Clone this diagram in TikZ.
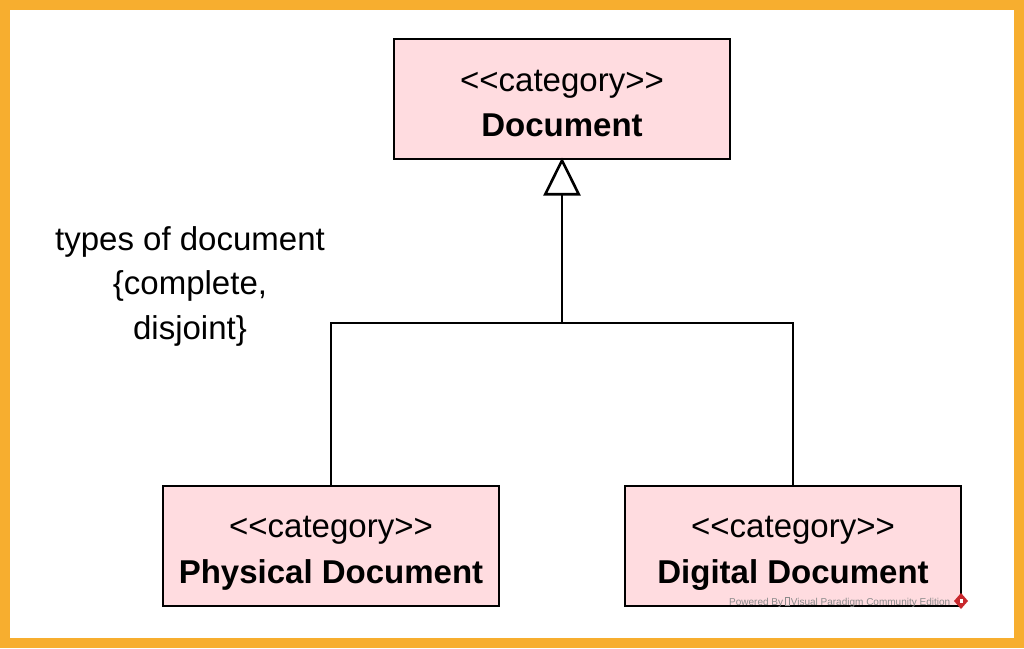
\documentclass[tikz,border=0pt]{standalone}
\usepackage{fontspec}
\setmainfont{Liberation Sans}
\usetikzlibrary{arrows.meta}
\definecolor{frameorange}{HTML}{F7AE2F}
\definecolor{catfill}{HTML}{FFDCE0}
\definecolor{wmgray}{HTML}{8A8A8A}
\definecolor{wmred}{HTML}{C8282D}
% stereotype text without the << ligature
\newcommand{\stereo}[1]{<\kern0pt<#1>\kern0pt>}
\begin{document}
\begin{tikzpicture}[x=1pt,y=-1pt,
  catbox/.style={draw=black,line width=2.8pt,fill=catfill},
  lbl/.style={anchor=base,inner sep=0pt,font=\fontsize{33}{38}\selectfont},
  blbl/.style={anchor=base,inner sep=0pt,font=\fontsize{33}{38}\selectfont\bfseries},
  conn/.style={draw=black,line width=2.6pt},
  gen/.style={conn,-{Triangle[open,fill=white,length=38pt,width=37pt,line width=2.6pt]}}]
  % frame
  \fill[frameorange] (0,0) rectangle (1024,648);
  \fill[white] (10,10) rectangle (1014,638);
  \useasboundingbox (0,0) rectangle (1024,648);
  % class boxes
  \path[catbox] (394,39) rectangle (730,159);
  \coordinate (docbot) at (562,159);
  \node[lbl] (docst) at (562,91) {\stereo{category}};
  \node[blbl] (docnm) at (562,136) {Document};
  \path[catbox] (163,486) rectangle (499,606);
  \coordinate (phystop) at (331,486);
  \node[lbl] (physst) at (331,537) {\stereo{category}};
  \node[blbl] (physnm) at (331,583) {Physical Document};
  \path[catbox] (625,486) rectangle (961,606);
  \coordinate (digtop) at (793,486);
  \node[lbl] (digst) at (793,537) {\stereo{category}};
  \node[blbl] (dignm) at (793,583) {Digital Document};
  % generalization set
  \coordinate (join) at (562,323);
  \coordinate (jl) at (331,323);
  \coordinate (jr) at (793,323);
  \draw[conn] (phystop) -- (jl) -- (jr) -- (digtop);
  \draw[gen] (join) -- ([yshift=1.5pt]docbot);
  % generalization set label
  \node[lbl] (gs1) at (190,250) {types of document};
  \node[lbl] (gs2) at (190,294) {\{complete,};
  \node[lbl] (gs3) at (190,339) {disjoint\}};
  % watermark
  \node[anchor=base west,inner sep=0pt,text=wmgray,font=\fontsize{10}{11}\selectfont] (wm) at (729,605)
    {Powered By\,\tikz[baseline=0pt]\draw[wmgray,line width=0.4pt] (0,0) rectangle (4pt,7.5pt);\,Visual Paradigm Community Edition};
  \fill[wmred] (961,593) -- (968,601) -- (961,609) -- (954,601) -- cycle;
  \fill[white] (959.5,598.5) rectangle (963,602.5);
\end{tikzpicture}
\end{document}
